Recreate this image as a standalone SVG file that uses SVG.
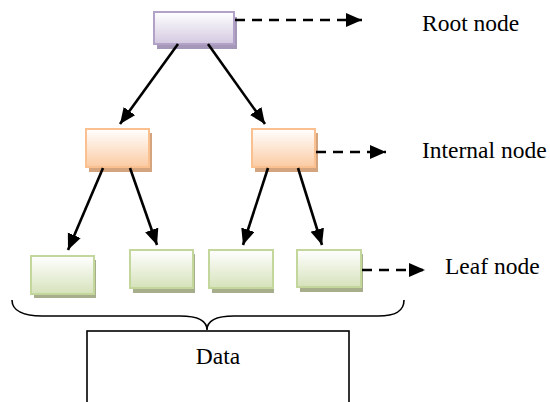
<svg xmlns="http://www.w3.org/2000/svg" width="550" height="402" viewBox="0 0 550 402">
<style>
  text { font-family: "Liberation Serif", "Times New Roman", serif; font-size: 23.5px; fill: #000; }
  .box { stroke-width: 2; }
  .root { fill: url(#gRoot); stroke: #b3a2c7; }
  .rootSh { fill: #a597b8; }
  .int { fill: url(#gInt); stroke: #fac090; }
  .intSh { fill: #d3a47e; }
  .leaf { fill: url(#gLeaf); stroke: #c3d69b; }
  .leafSh { fill: #a7ae8c; }
  .solid { stroke: #000; stroke-width: 2.6; fill: none; marker-end: url(#arr); }
  .dash { stroke: #000; stroke-width: 2.6; fill: none; stroke-dasharray: 10 7; marker-end: url(#arr); }
  .line { stroke: #000; stroke-width: 1.6; fill: none; }
</style>
<defs>
  <linearGradient id="gRoot" x1="0" y1="0" x2="0" y2="1">
    <stop offset="0" stop-color="#ffffff"/>
    <stop offset="1" stop-color="#d3c9e0"/>
  </linearGradient>
  <linearGradient id="gInt" x1="0" y1="0" x2="0" y2="1">
    <stop offset="0" stop-color="#ffffff"/>
    <stop offset="1" stop-color="#fbcba3"/>
  </linearGradient>
  <linearGradient id="gLeaf" x1="0" y1="0" x2="0" y2="1">
    <stop offset="0" stop-color="#ffffff"/>
    <stop offset="1" stop-color="#d6e2bb"/>
  </linearGradient>
  <marker id="arr" markerUnits="userSpaceOnUse" markerWidth="17" markerHeight="15" refX="16" refY="7" orient="auto">
    <path d="M0,0 L16,7 L0,14 Z" fill="#000"/>
  </marker>
</defs>

<g id="root-node">
  <rect class="rootSh" x="157" y="17" width="80" height="32"/>
  <rect class="box root" x="154" y="12" width="80" height="32"/>
</g>
<g id="internal-left">
  <rect class="intSh" x="89" y="133" width="63" height="39"/>
  <rect class="box int" x="86" y="129" width="63" height="38"/>
</g>
<g id="internal-right">
  <rect class="intSh" x="255" y="133" width="63" height="39"/>
  <rect class="box int" x="252" y="129" width="63" height="38"/>
</g>
<g id="leaf-1">
  <rect class="leafSh" x="34" y="260" width="62" height="38"/>
  <rect class="box leaf" x="31" y="256" width="63" height="38"/>
</g>
<g id="leaf-2">
  <rect class="leafSh" x="133" y="254" width="62" height="39"/>
  <rect class="box leaf" x="130" y="250" width="63" height="38"/>
</g>
<g id="leaf-3">
  <rect class="leafSh" x="212" y="254" width="62" height="39"/>
  <rect class="box leaf" x="209" y="250" width="64" height="38"/>
</g>
<g id="leaf-4">
  <rect class="leafSh" x="300" y="254" width="63" height="38"/>
  <rect class="box leaf" x="297" y="250" width="64" height="37"/>
</g>

<g id="connectors">
  <line class="solid" x1="178" y1="44" x2="120" y2="124"/>
  <line class="solid" x1="208" y1="44" x2="265" y2="124"/>
  <line class="solid" x1="103" y1="168" x2="68" y2="250"/>
  <line class="solid" x1="130" y1="168" x2="157" y2="245"/>
  <line class="solid" x1="268" y1="168" x2="243" y2="245"/>
  <line class="solid" x1="298" y1="168" x2="322" y2="245"/>
  <line class="dash" x1="235" y1="20" x2="362" y2="20"/>
  <line class="dash" x1="316" y1="152" x2="386" y2="152"/>
  <line class="dash" x1="362" y1="270" x2="425" y2="270"/>
</g>

<g id="brace">
  <path class="line" d="M12,300 C12,311 24,316 42,316 L180,316 C198,316 207,321 207,330 C207,321 216,316 234,316 L378,316 C396,316 404,311 404,300"/>
</g>

<g id="data">
  <rect class="line" x="87" y="331" width="262" height="90"/>
  <text x="218" y="364" text-anchor="middle">Data</text>
</g>

<g id="labels">
  <text x="422" y="31">Root node</text>
  <text x="422" y="158">Internal node</text>
  <text x="445" y="274">Leaf node</text>
</g>
</svg>
